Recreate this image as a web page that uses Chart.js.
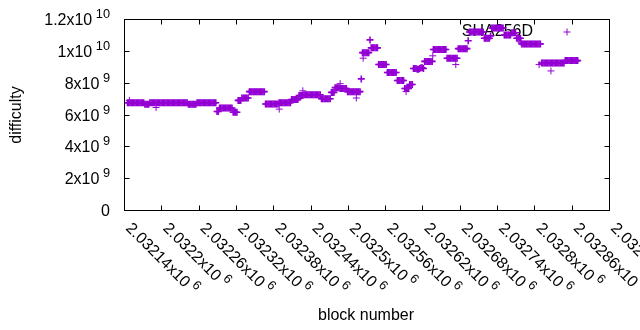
<!DOCTYPE html>
<html><head><meta charset="utf-8">
<script src="https://cdn.jsdelivr.net/npm/chart.js@4.4.0/dist/chart.umd.min.js"></script>
<style>html,body{margin:0;padding:0;background:#fff}</style>
</head><body>
<canvas id="c" width="640" height="330"></canvas>
<script>
const seriesName = "SHA256D";
const xTitle = "block number";
const yTitle = "difficulty";
// sampled block heights: every 2nd block from firstSampledBlock
const firstSampledBlock = 2032144;
const sampleStep = 2;
// difficulty, in units of 1e9
const difficultyE9 = [
 6.8,6.8,6.8,6.8,6.8,6.8,6.8,6.8,6.8,6.8,6.8,6.8,6.8,6.8,
 6.7,6.7,6.7,6.7,
 6.8,6.8,6.8,6.8,6.8,6.8,6.8,6.8,6.8,6.8, 6.8,6.8,6.8,6.8,6.8,6.8,6.8,6.8,6.8,6.8, 6.8,6.8,6.8,6.8,6.8,6.8,6.8,6.8,6.8,6.8, 6.8,
 6.7,6.7,6.7,6.7,6.7,6.7,6.7,
 6.8,6.8,6.8,6.8,6.8,6.8,6.8,6.8,6.8,6.8,6.8,6.8,6.8,6.8,6.8,6.8,
 6.25,6.25,
 6.47,6.47,6.47,6.47,6.47,6.47,6.47,6.47,6.47,6.47,6.47,
 6.2,6.2,6.2,6.2,
 6.95,6.95,6.95,
 7.1,7.1,7.1,7.1,7.1,7.1,
 7.5,7.5,7.5,7.5,7.5,7.5,7.5,7.5,7.5,7.5,7.5,7.5,7.5,
 6.72,6.72,6.72,6.72,6.72,6.72,6.72,6.72,6.72,6.72,6.72,
 6.8,6.8,6.8,6.8,6.8,6.8,6.8,6.8,6.8,6.8,
 7.0,7.0,7.0,7.0,7.0,7.0,
 7.25,7.25,7.25,7.25,
 7.3,7.3,7.3,7.3,7.3,7.3,7.3,7.3,7.3,7.3,7.3,7.3,7.3,7.3,
 7.05,7.05,7.05,7.05,7.05,7.05,7.05,7.05,
 7.45,7.45,7.45,
 7.75,7.75,7.75,7.75,
 7.7,7.7,7.7,7.7,7.7,7.7,
 7.5,7.5,7.5,7.5,7.5,7.5,7.5,7.5,7.5,7.5,7.5,
 8.3,
 9.95,9.95,9.95,9.95,9.95,9.95,
 10.75,
 10.25,10.25,10.25,10.25,10.25,10.25,
 9.2,9.2,9.2,9.2,9.2,9.2,9.2,
 8.7,8.7,8.7,8.7,8.7,8.7,8.7,8.7,
 8.2,8.2,8.2,8.2,8.2,8.2,
 7.7,7.7,7.7,7.7,
 7.95,7.95,7.95,
 8.95,8.95,8.95,8.9,8.9,8.95,9.0,9.0,8.95,
 9.4,9.4,9.4,9.4,9.4,9.4,9.4,
 10.15,10.15,10.15,10.15,10.15,10.15,10.15,10.15,10.15,10.15,10.15,
 9.6,9.6,9.6,9.6,9.6,9.6,9.6,9.6,9.6,
 10.2,10.2,10.2,10.2,10.2,10.2,10.2,10.2,
 10.7,
 11.25,11.25,11.25,11.25,11.25,11.25,11.25,11.25,11.25,11.25,11.25,11.25,
 10.85,10.85,10.85,10.85,10.85,
 11.0,
 11.5,11.5,11.5,11.5,11.5,11.5,11.5,11.5,11.5,11.5,
 11.05,11.05,11.05,11.05,11.05,11.05,
 11.2,11.2,11.2,11.2,
 10.85,10.85,10.85,10.85,
 10.5,10.5,10.5,10.5,10.5,10.5,10.5,10.5,10.5,10.5,10.5,10.5,10.5,10.5,10.5,10.5,
 9.3,9.3,9.3,9.3,9.3,9.3,9.3,9.3,9.3,9.3,9.3,
 9.3,9.3,9.3,9.3,9.3,9.3,9.3,9.3,
 9.45,9.45,9.45,9.45,9.45,9.45,9.45,9.45,9.45,9.45,9.45
];
// isolated points that sit away from the runs
const extraBlocks = [2032147, 2032190, 2032388, 2032426, 2032486, 2032512, 2032523, 2032592, 2032635, 2032672, 2032777, 2032806, 2032825];
const extraDifficultyE9 = [6.95, 6.5, 6.4, 7.55, 8.0, 7.1, 9.6, 7.5, 9.75, 9.2, 10.6, 9.2, 8.8];

const xTickValues = [2032140,2032200,2032260,2032320,2032380,2032440,2032500,2032560,2032620,2032680,2032740,2032800,2032860,2032920];
const xTickMantissa = ["2.03214","2.0322","2.03226","2.03232","2.03238","2.03244","2.0325","2.03256","2.03262","2.03268","2.03274","2.0328","2.03286","2.03292"];
const xTickExponent = "6";
const yTickValues = [0,2e9,4e9,6e9,8e9,1e10,1.2e10];
const yTickMantissa = ["0","2x10","4x10","6x10","8x10","1x10","1.2x10"];
const yTickExponent = ["","9","9","9","9","10","10"];

const COLOR = '#9400D3';
const FONT = '"Liberation Sans", Arial, sans-serif';

const runPoints = difficultyE9.map((v, i) => ({x: firstSampledBlock + i * sampleStep, y: v * 1e9}));
const extraPoints = extraBlocks.map((b, i) => ({x: b, y: extraDifficultyE9[i] * 1e9}));

const crisp = p => Math.floor(p - 0.5) + 0.5;

const gnuplotFrame = {
  id: 'gnuplotFrame',
  beforeDatasetsDraw(chart) {
    const ctx = chart.ctx;
    ctx.save();
    ctx.fillStyle = '#000';
    ctx.font = '16px ' + FONT;
    ctx.textAlign = 'right';
    ctx.textBaseline = 'middle';
    ctx.fillText(seriesName, 533, 32);
    ctx.restore();
  },
  afterDraw(chart) {
    const {ctx, chartArea: a, scales: {x, y}} = chart;
    ctx.save();
    ctx.strokeStyle = '#000';
    ctx.lineWidth = 1;
    const L = crisp(a.left), R = crisp(a.right), T = crisp(a.top), B = crisp(a.bottom);
    ctx.strokeRect(L, T, R - L, B - T);
    const tl = 5;
    ctx.beginPath();
    yTickValues.forEach(v => {
      const py = crisp(y.getPixelForValue(v));
      ctx.moveTo(L, py); ctx.lineTo(L + tl, py);
      ctx.moveTo(R, py); ctx.lineTo(R - tl, py);
    });
    xTickValues.forEach(v => {
      const px = crisp(x.getPixelForValue(v));
      if (px > R + 1) return;
      ctx.moveTo(px, B); ctx.lineTo(px, B - tl);
      ctx.moveTo(px, T); ctx.lineTo(px, T + tl);
    });
    ctx.stroke();

    ctx.fillStyle = '#000';
    yTickValues.forEach((v, i) => {
      const py = y.getPixelForValue(v);
      const rightEdge = 110;
      ctx.textBaseline = 'alphabetic';
      ctx.textAlign = 'right';
      let baseRight = rightEdge;
      if (yTickExponent[i]) {
        ctx.font = '12.8px ' + FONT;
        const sw = ctx.measureText(yTickExponent[i]).width;
        ctx.fillText(yTickExponent[i], rightEdge, py + 5 - 7);
        baseRight = rightEdge - sw - 3.5;
      }
      ctx.font = '16px ' + FONT;
      ctx.fillText(yTickMantissa[i], baseRight, py + 5);
    });
    xTickValues.forEach((v, i) => {
      const px = x.getPixelForValue(v);
      ctx.save();
      ctx.translate(px, 229);
      ctx.rotate(Math.PI / 4);
      ctx.textAlign = 'left';
      ctx.textBaseline = 'alphabetic';
      ctx.font = '16px ' + FONT;
      const base = xTickMantissa[i] + 'x10';
      const bw = ctx.measureText(base).width;
      ctx.fillText(base, 0, 0);
      ctx.font = '12.8px ' + FONT;
      ctx.fillText(xTickExponent, bw + 3.5, -7);
      ctx.restore();
    });
    ctx.font = '16px ' + FONT;
    ctx.textAlign = 'center';
    ctx.textBaseline = 'middle';
    ctx.fillText(xTitle, 366, 316);
    ctx.save();
    ctx.translate(17, 115);
    ctx.rotate(-Math.PI / 2);
    ctx.fillText(yTitle, 0, 0);
    ctx.restore();
    // legend sample
    ctx.strokeStyle = COLOR;
    ctx.fillStyle = COLOR;
    Chart.helpers.drawPoint(ctx, {pointStyle: 'cross', radius: 3.5, borderWidth: 1}, 567, 32);
    ctx.restore();
  }
};

const common = {
  pointStyle: 'cross',
  pointRadius: 3.5,
  pointHoverRadius: 3.5,
  borderColor: COLOR,
  backgroundColor: COLOR,
  showLine: false
};

new Chart(document.getElementById('c'), {
  type: 'scatter',
  data: {datasets: [
    Object.assign({label: seriesName, data: runPoints, borderWidth: 1.6}, common),
    Object.assign({label: seriesName + ' isolated', data: extraPoints, borderWidth: 1}, common)
  ]},
  options: {
    responsive: false,
    animation: false,
    devicePixelRatio: 1,
    layout: {padding: {left: 125, right: 30, top: 20, bottom: 119}},
    scales: {
      x: {type: 'linear', min: 2032140, max: 2032920, display: false},
      y: {type: 'linear', min: 0, max: 1.2e10, display: false}
    },
    plugins: {legend: {display: false}, tooltip: {enabled: false}}
  },
  plugins: [gnuplotFrame]
});
</script>
</body></html>
